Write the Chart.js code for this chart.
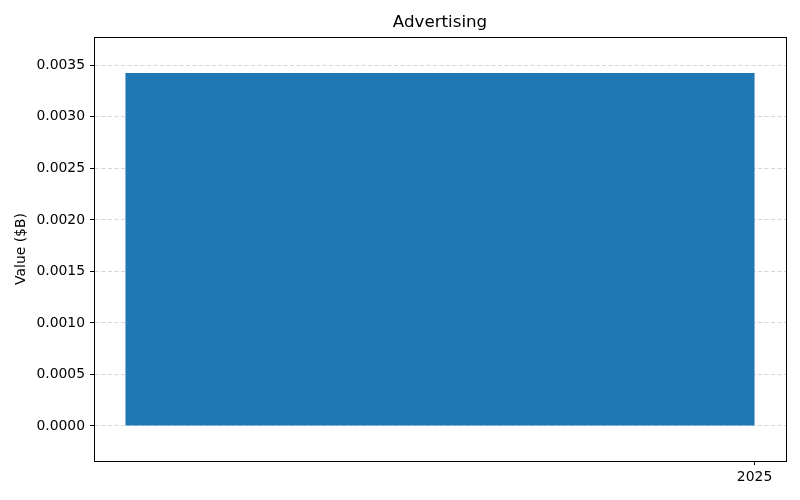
<!DOCTYPE html>
<html>
<head>
<meta charset="utf-8">
<script src="https://cdn.jsdelivr.net/npm/chart.js@4/dist/chart.umd.min.js"></script>
<style>
  html, body { margin: 0; padding: 0; background: #fff; }
  #wrap { width: 800px; height: 500px; }
</style>
</head>
<body>
<div id="wrap"><canvas id="chart" width="800" height="500"></canvas></div>
<script>
// data
const chartTitle = 'Advertising';
const years = [2025];
const values = [0.003425];
const yTicks = [0, 0.0005, 0.001, 0.0015, 0.002, 0.0025, 0.003, 0.0035];
const yMin = -0.00034;
const yMax = 0.003775;

// each bar covers the year ending at its tick
const points = years.map((yr, i) => ({ x: yr - 0.5, y: values[i] }));
const xMin = years[0] - 1.05;
const xMax = years[years.length - 1] + 0.05;

const font = 'DejaVu Sans';

// title centred over the plot + black frame round it
const framePlugin = {
  id: 'frame',
  afterDraw(chart) {
    const a = chart.chartArea;
    const ctx = chart.ctx;
    ctx.save();
    ctx.strokeStyle = '#000';
    ctx.lineWidth = 1;
    ctx.setLineDash([]);
    ctx.strokeRect(Math.round(a.left) + 0.5, Math.round(a.top) + 0.5,
      Math.round(a.right - a.left), Math.round(a.bottom - a.top));
    ctx.fillStyle = '#000';
    ctx.font = '16.7px "' + font + '"';
    ctx.textAlign = 'center';
    ctx.textBaseline = 'middle';
    ctx.fillText(chartTitle, (a.left + a.right) / 2, 23);
    ctx.restore();
  }
};

new Chart(document.getElementById('chart').getContext('2d'), {
  type: 'bar',
  data: {
    datasets: [{
      label: 'Value',
      data: points,
      backgroundColor: '#1f77b4',
      borderWidth: 0,
      categoryPercentage: 1,
      barPercentage: 1 / (xMax - xMin)
    }]
  },
  options: {
    responsive: false,
    animation: false,
    devicePixelRatio: 1,
    layout: { padding: { top: 37, right: 14, bottom: 0, left: 0 } },
    plugins: {
      legend: { display: false },
      tooltip: { enabled: false }
    },
    scales: {
      x: {
        type: 'linear',
        min: xMin,
        max: xMax,
        offset: false,
        afterBuildTicks: (scale) => { scale.ticks = years.map(v => ({ value: v })); },
        afterFit: (scale) => { scale.height = 39; },
        grid: {
          offset: false,
          drawOnChartArea: false,
          drawTicks: true,
          tickLength: 4,
          tickColor: '#000'
        },
        border: { color: '#000' },
        ticks: {
          color: '#000',
          padding: 4,
          maxRotation: 0,
          font: { family: font, size: 13.9 },
          callback: (v) => String(v)
        }
      },
      y: {
        min: yMin,
        max: yMax,
        afterBuildTicks: (scale) => { scale.ticks = yTicks.map(v => ({ value: v })); },
        afterFit: (scale) => { scale.width = 94; },
        grid: {
          color: '#d6d6d6',
          tickBorderDash: [],
          tickLength: 4,
          tickColor: '#000'
        },
        border: { color: '#000', dash: [4, 2.5] },
        ticks: {
          color: '#000',
          padding: 5,
          font: { family: font, size: 13.9 },
          callback: (v) => Number(v).toFixed(4)
        },
        title: {
          display: true,
          text: 'Value ($B)',
          color: '#000',
          font: { family: font, size: 13.9 },
          padding: { top: 13, bottom: 4 }
        }
      }
    }
  },
  plugins: [framePlugin]
});
</script>
</body>
</html>
